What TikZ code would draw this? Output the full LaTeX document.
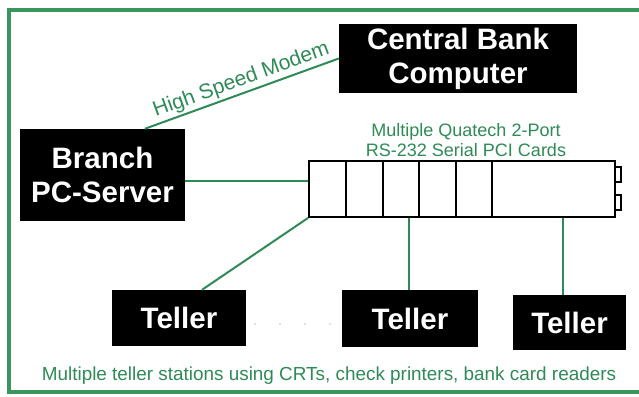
\documentclass[tikz,border=0pt]{standalone}
\usepackage{fontspec}
\setmainfont{Liberation Sans}
\definecolor{fgreen}{RGB}{58,150,92}
\definecolor{tgreen}{RGB}{46,139,87}
\tikzset{
  blackbox/.style={fill=black, text=white, inner sep=0pt, align=center,
    font=\fontsize{29.5}{34}\selectfont\bfseries},
  link/.style={draw=tgreen, line width=2pt},
  gtext/.style={text=tgreen, inner sep=0pt, align=center,
    font=\fontsize{18}{20.5}\selectfont},
  cardline/.style={draw=black, line width=1.8pt},
}
\begin{document}
\begin{tikzpicture}[x=1pt,y=-1pt]
\useasboundingbox (0,0) rectangle (639,396);
\fill[white] (0,0) rectangle (639,396);
% frame
\draw[fgreen, line width=3.6pt] (9,10) rectangle (680,392);

% nodes
\node[blackbox, minimum width=238pt, minimum height=69pt] (central) at (458,58.5) {Central Bank\\Computer};
\node[blackbox, minimum width=165pt, minimum height=92pt] (branch) at (102.5,175) {Branch\\PC-Server};
\node[blackbox, minimum width=134pt, minimum height=56pt] (t1) at (179,318) {Teller};
\node[blackbox, minimum width=136pt, minimum height=57pt] (t2) at (410,318.5) {Teller};
\node[blackbox, minimum width=113pt, minimum height=55pt] (t3) at (569.5,322.5) {Teller};

% card box
\node[draw=black, line width=1.8pt, minimum width=306pt, minimum height=56pt, inner sep=0pt] (cards) at (462,189) {};
\foreach \x in {346,383,419,456,492} {
  \draw[cardline] (\x,161) -- (\x,217);
}
\draw[cardline] (615,167) rectangle (621,182);
\draw[cardline] (615,195) rectangle (621,210);

\node[gtext] (cardlabel) at (466,140) {Multiple Quatech 2-Port\\RS-232 Serial PCI Cards};

% connectors
\coordinate (m1) at ([xshift=125pt]branch.north west);
\draw[link] (m1) -- node[gtext, font=\fontsize{21}{24}\selectfont, sloped, above=2pt, pos=0.52] (modem) {High Speed Modem} (central.west);
\draw[link] (branch.east |- 0,181) coordinate (b1) -- (b1 -| cards.west);
\coordinate (t1top) at ([xshift=23pt]t1.north);
\draw[link] (cards.south west) -- (t1top);
\draw[link] (t2.north -| 409,0) coordinate (t2top) -- (t2top |- cards.south);
\draw[link] (t3.north -| 563,0) coordinate (t3top) -- (t3top |- cards.south);

% dots
\foreach \x in {255,280,305,330} {
  \fill[gray] (\x,324) circle (0.7pt);
}

\node[gtext, font=\fontsize{18.9}{21}\selectfont] (bottom) at (329,376) {Multiple teller stations using CRTs, check printers, bank card readers};
\end{tikzpicture}
\end{document}
